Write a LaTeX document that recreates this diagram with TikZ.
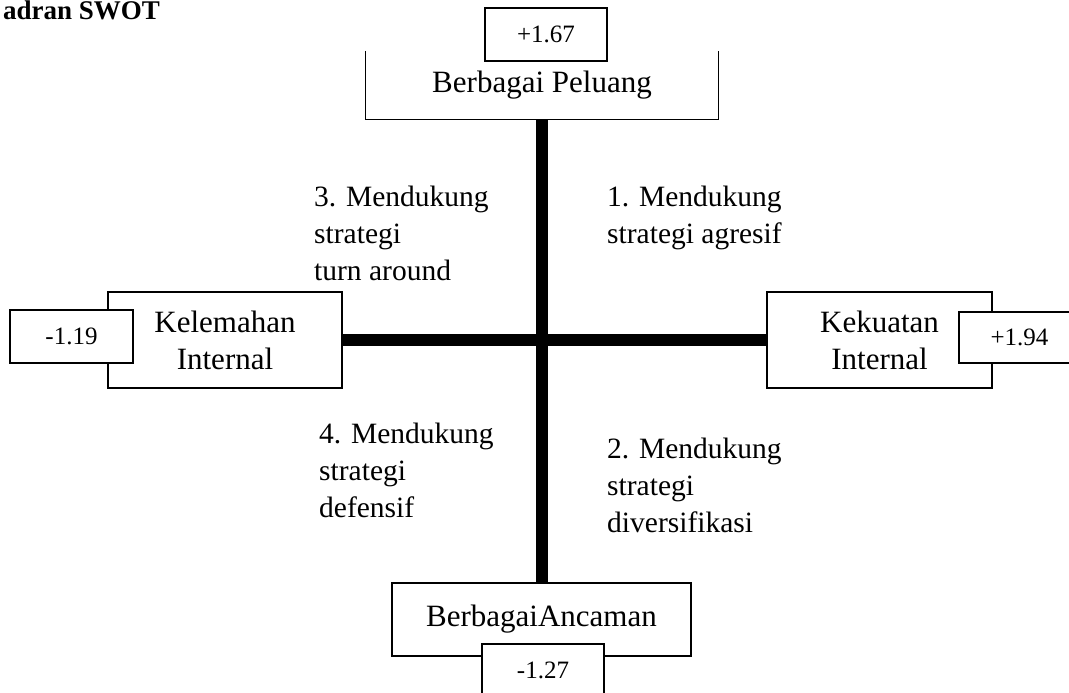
\documentclass[tikz,border=0pt]{standalone}
\usepackage{fontspec}
\setmainfont{Liberation Serif}
\begin{document}
\begin{tikzpicture}[x=1pt,y=-1pt,
  box/.style={draw, line width=1.4pt, fill=white, inner sep=0pt, align=center, font=\fontsize{31}{37}\selectfont},
  numbox/.style={draw, line width=1.2pt, fill=white, inner sep=0pt, font=\fontsize{25}{30}\selectfont},
  quad/.style={anchor=base west, inner sep=0pt, align=left, font=\fontsize{29.5}{37}\selectfont},
  axisline/.style={line width=12pt}]
\useasboundingbox (0,0) rectangle (1069,693);
\clip (0,0) rectangle (1069,693);
% title
\node[anchor=base west, inner sep=0pt, font=\fontsize{27}{30}\selectfont\bfseries] (title) at (3,20) {adran SWOT};
% main boxes
\node[box, draw=none, minimum width=352pt, minimum height=67pt] (peluang) at (542,85) {Berbagai Peluang};
\draw[line width=1.4pt] (peluang.north west) |- (peluang.south east) -- (peluang.north east);
\node[box, minimum width=234pt, minimum height=96pt] (kelemahan) at (225,340) {Kelemahan\\Internal};
\node[box, minimum width=225pt, minimum height=96pt] (kekuatan) at (879.5,340) {Kekuatan\\Internal};
\node[box, minimum width=299pt, minimum height=73pt] (ancaman) at (541.5,619.5) {BerbagaiAncaman};
% axes
\draw[axisline] (peluang.south) -- (peluang.south |- ancaman.north);
\draw[axisline] (kelemahan.east) -- (kekuatan.west);
% number boxes
\node[numbox, minimum width=122pt, minimum height=53pt] (vpel) at (546,34.5) {+1.67};
\node[numbox, minimum width=123pt, minimum height=53pt] (vkel) at (71.5,336.5) {-1.19};
\node[numbox, minimum width=121pt, minimum height=51pt] (vkek) at (1019.5,337.5) {+1.94};
\node[numbox, minimum width=122pt, minimum height=53pt] (vanc) at (543,670.5) {-1.27};
% quadrant labels (anchored at the baseline of the last line)
\node[quad] (q3) at (314,280) {3. Mendukung\\strategi\\turn around};
\node[quad] (q1) at (607,243) {1. Mendukung\\strategi agresif};
\node[quad] (q4) at (319,517) {4. Mendukung\\strategi\\defensif};
\node[quad] (q2) at (607,532) {2. Mendukung\\strategi\\diversifikasi};
\end{tikzpicture}
\end{document}
